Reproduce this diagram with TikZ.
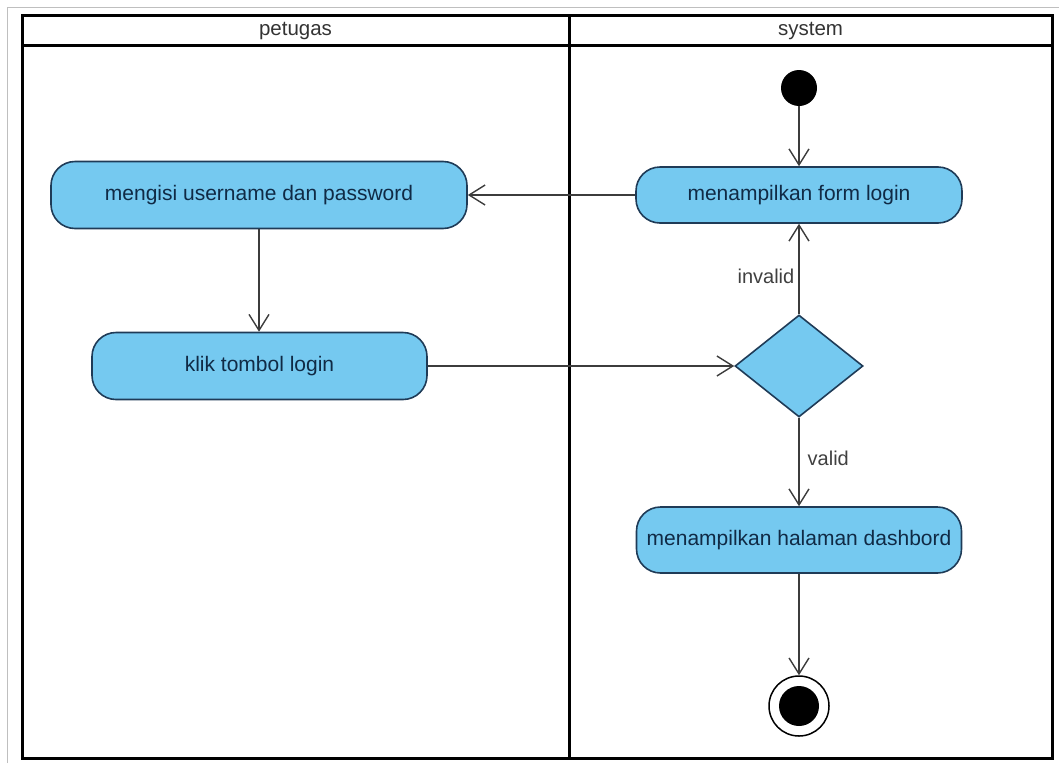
\documentclass[tikz,border=0pt]{standalone}
\usepackage{fontspec}
\setmainfont{Liberation Sans}
\usetikzlibrary{arrows.meta,shapes.geometric}
\definecolor{actfill}{HTML}{75C9F0}
\definecolor{actline}{HTML}{1F3B57}
\definecolor{acttext}{HTML}{102A45}
\definecolor{flowcol}{HTML}{3C3C3C}
\begin{document}
\begin{tikzpicture}[x=1pt,y=-1pt,
  action/.style={draw=actline, line width=1.6pt, fill=actfill, rounded corners=24pt,
    text=acttext, font=\fontsize{21}{24}\selectfont, inner sep=0pt},
  decision/.style={diamond, draw=actline, line width=1.6pt, fill=actfill, inner sep=0pt,
    minimum width=128pt, minimum height=102pt},
  flow/.style={draw=flowcol, line width=1.4pt,
    -{Straight Barb[length=16pt,width=20pt,line width=1.4pt]}},
  guard/.style={text=black!75, font=\fontsize{20}{23}\selectfont, inner sep=2pt},
  lanehead/.style={text=black!80, font=\fontsize{20.5}{23}\selectfont},
  lane/.style={line width=3pt, draw=black}]
\useasboundingbox (0,0) rectangle (1059,763);

% outer page edge
\draw[black!25, line width=1pt] (7,763) -- (7,7) -- (1059,7);

% swimlanes
\draw[lane] (22,15) rectangle (1052,758);
\draw[lane] (22,45) -- (1052,45);
\draw[lane] (569,15) -- (569,758);
\node[lanehead] (lanepetugas) at (295.5,31) {petugas};
\node[lanehead] (lanesystem) at (810.5,31) {system};

% activities
\node[circle, fill=black, minimum size=36pt, inner sep=0pt] (start) at (799,88) {};
\node[action, minimum width=326pt, minimum height=56pt] (form) at (799,195) {menampilkan form login};
\node[action, minimum width=416pt, minimum height=67pt] (fill) at (259,195) {mengisi username dan password};
\node[action, minimum width=335pt, minimum height=67pt] (klik) at (259.5,366) {klik tombol login};
\node[decision] (dec) at (799,366) {};
\node[action, minimum width=325pt, minimum height=66pt] (dash) at (799,540) {menampilkan halaman dashbord};
\node[circle, draw=black, line width=1.5pt, fill=white, minimum size=60pt, inner sep=0pt] (end) at (799,706) {};
\node[circle, fill=black, minimum size=40pt, inner sep=0pt] (enddot) at (end) {};

% control flows
\draw[flow] (start) -- (form);
\draw[flow] (form.west) -- (fill.east);
\draw[flow] (fill.south) -- (fill.south |- klik.north);
\draw[flow] (klik.east) -- (dec.west);
\draw[flow] (dec.north) -- node[guard, pos=0.42, left=2pt] {invalid} (form.south);
\draw[flow] (dec.south) -- node[guard, pos=0.46, right=6pt] {valid} (dash.north);
\draw[flow] (dash) -- (end);
\end{tikzpicture}
\end{document}
